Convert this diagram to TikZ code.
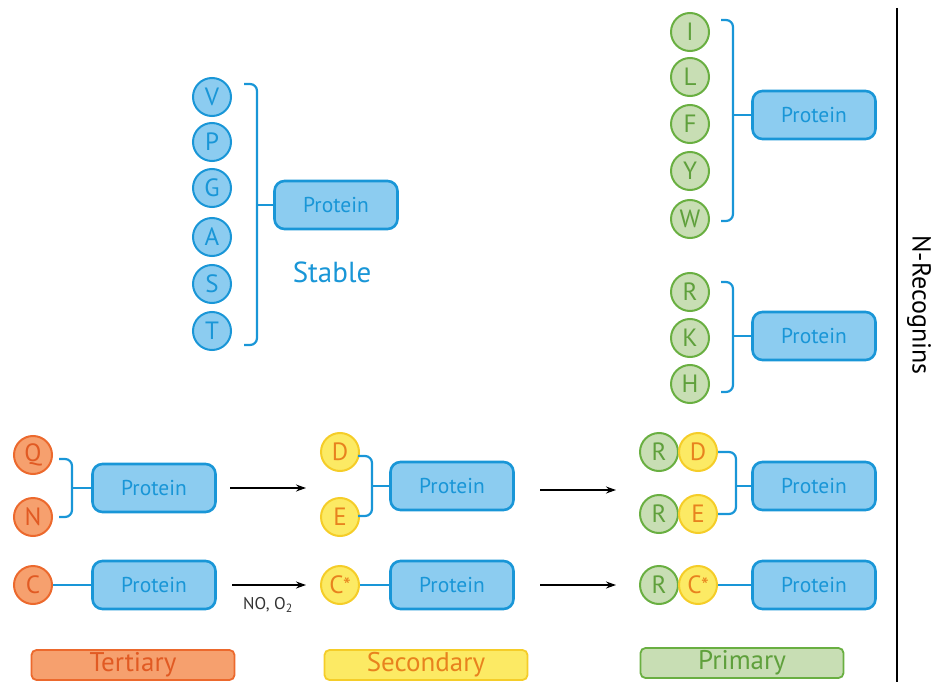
\documentclass[tikz,border=0pt]{standalone}
\usepackage{fontspec}
\setmainfont{PT Sans}
\usetikzlibrary{arrows.meta}
\definecolor{bfill}{RGB}{140,204,240}
\definecolor{bline}{RGB}{25,150,215}
\definecolor{ofill}{RGB}{246,160,110}
\definecolor{oline}{RGB}{236,105,45}
\definecolor{otext}{RGB}{225,90,35}
\definecolor{yfill}{RGB}{252,234,100}
\definecolor{yline}{RGB}{245,205,40}
\definecolor{ytext}{RGB}{232,130,30}
\definecolor{gfill}{RGB}{200,222,180}
\definecolor{gline}{RGB}{105,175,65}
\definecolor{gtext}{RGB}{95,160,60}
\tikzset{
  aa/.style={circle,draw,line width=2pt,minimum size=38pt,inner sep=0pt,font=\fontsize{25}{25}\selectfont},
  bluec/.style={aa,fill=bfill,draw=bline,text=bline},
  orc/.style={aa,fill=ofill,draw=oline,text=otext},
  yec/.style={aa,fill=yfill,draw=yline,text=ytext},
  grc/.style={aa,fill=gfill,draw=gline,text=gtext},
  prot/.style={rectangle,rounded corners=10pt,draw=bline,fill=bfill,line width=2.6pt,minimum width=123pt,minimum height=48pt,text=bline,font=\fontsize{21.5}{21.5}\selectfont},
  brack/.style={draw=bline,line width=2.2pt,rounded corners=7pt},
  link/.style={draw=bline,line width=2.2pt},
  rarrow/.style={draw=black,line width=1.3pt,-{Stealth[length=10pt,width=7pt]}},
  lab/.style={rectangle,rounded corners=5pt,line width=1.8pt,minimum width=203pt,minimum height=30pt,inner sep=0pt,font=\fontsize{27}{27}\selectfont}
}
\newcommand{\cstar}{C\kern-0.5pt{\fontsize{22}{22}\selectfont*}}
\begin{document}
\begin{tikzpicture}[x=1pt,y=-1pt]
\useasboundingbox (0,0) rectangle (932,682);
% Stable group
\node[bluec] (v) at (212,97) {V};
\node[bluec] (p) at (212,142) {P};
\node[bluec] (g) at (212,188) {G};
\node[bluec] (a) at (212,237) {A};
\node[bluec] (s) at (212,284) {S};
\node[bluec] (t) at (212,331) {T};
\node[prot] (sp) at (336,205) {Protein};
\draw[brack] (244,84) -- (257,84) -- (257,345) -- (244,345);
\draw[link] (257,205) -- (sp.west);
\node[text=bline,font=\fontsize{29}{29}\selectfont] (stable) at (332,272) {Stable};
% Primary top group
\node[grc] (i) at (690,32) {I};
\node[grc] (l) at (690,77) {L};
\node[grc] (f) at (690,124) {F};
\node[grc] (y) at (690,171) {Y};
\node[grc] (w) at (690,219) {W};
\node[prot] (p1) at (814,115) {Protein};
\draw[brack] (721,20) -- (733,20) -- (733,221) -- (721,221);
\draw[link] (733,115) -- (p1.west);
% RKH group
\node[grc] (r1) at (690,292) {R};
\node[grc] (k1) at (690,338) {K};
\node[grc] (h1) at (690,384) {H};
\node[prot] (p2) at (814,336) {Protein};
\draw[brack] (721,282) -- (733,282) -- (733,392) -- (721,392);
\draw[link] (733,336) -- (p2.west);
% right line and label
\coordinate (vlt) at (897,8);
\coordinate (vlb) at (897,682);
\draw[line width=2.4pt] (vlt) -- (vlb);
\node[rotate=-90,font=\fontsize{26}{26}\selectfont] (nrec) at (919,305) {N-Recognins};
% Row 1
\node[orc] (q) at (33,455) {Q};
\node[orc] (n) at (33,517) {N};
\node[prot] (p3) at (154,488) {Protein};
\draw[brack] (59,459) -- (72,459) -- (72,517) -- (59,517);
\draw[link] (72,488) -- (p3.west);
\node[yec] (d) at (340,452) {D};
\node[yec] (e) at (340,517) {E};
\node[prot] (p4) at (452,486) {Protein};
\draw[brack] (358,456) -- (372,456) -- (372,516) -- (358,516);
\draw[link] (372,486) -- (p4.west);
\node[grc] (rd1) at (659,452) {R};
\node[yec] (dd) at (698,452) {D};
\node[grc] (re1) at (659,514) {R};
\node[yec] (ee) at (698,514) {E};
\node[prot] (p5) at (814,486) {Protein};
\draw[brack] (718,452) -- (736,452) -- (736,514) -- (718,514);
\draw[link] (736,486) -- (p5.west);
\coordinate (a1s) at (230,488);
\coordinate (a1e) at (306,488);
\coordinate (a2s) at (540,490);
\coordinate (a2e) at (616,490);
% Row 2
\node[orc] (c) at (33,585) {C};
\node[prot] (p6) at (154,585) {Protein};
\draw[link] (c) -- (p6);
\node[yec] (cs) at (340,585) {\cstar};
\node[prot] (p7) at (452,585) {Protein};
\draw[link] (cs) -- (p7);
\node[grc] (rc) at (659,585) {R};
\node[yec] (cs2) at (698,585) {\cstar};
\node[prot] (p8) at (814,585) {Protein};
\draw[link] (cs2) -- (p8);
\coordinate (a3s) at (232,585);
\coordinate (a3e) at (306,585);
\coordinate (a4s) at (540,585);
\coordinate (a4e) at (616,585);
\draw[rarrow] (a1s) -- (a1e);
\draw[rarrow] (a2s) -- (a2e);
\draw[rarrow] (a3s) -- (a3e);
\draw[rarrow] (a4s) -- (a4e);
\node[font=\fontsize{17}{17}\selectfont,text=black!80] (no) at (268,605) {NO, O\textsubscript{2}};
% Labels
\node[lab,fill=ofill,draw=oline,text=otext] (ter) at (133,665) {Tertiary};
\node[lab,fill=yfill,draw=yline,text=ytext] (sec) at (426,665) {Secondary};
\node[lab,fill=gfill,draw=gline,text=gtext] (pri) at (742,663) {Primary};
\end{tikzpicture}
\end{document}
